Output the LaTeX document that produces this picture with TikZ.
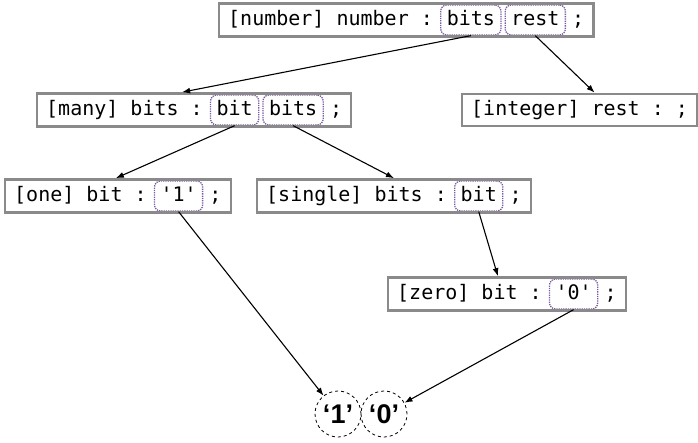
\documentclass[tikz,border=0pt]{standalone}
\usepackage{fontspec}
\setmonofont{DejaVu Sans Mono}
\setsansfont{Liberation Sans}
\usetikzlibrary{positioning,fit,arrows.meta}
\definecolor{framegray}{HTML}{8A8A8A}
\definecolor{slotpurple}{HTML}{7A5AA3}

\tikzset{
  every node/.style={font=\fontsize{20}{24}\selectfont\ttfamily},
  txt/.style={inner xsep=0pt, inner ysep=5pt, text height=15pt, text depth=5pt},
  slot/.style={txt, draw=slotpurple, densely dotted, line width=1.3pt,
    rounded corners=6pt, inner xsep=6pt},
  rule/.style={draw=framegray, line width=2.4pt, inner xsep=9pt, inner ysep=1pt},
  term/.style={circle, draw, dashed, line width=0.8pt, minimum size=46pt, inner sep=0pt,
    font=\fontsize{27}{30}\selectfont\sffamily\bfseries},
  link/.style={-{Latex[length=8pt,width=6pt]}, line width=1.1pt}
}

\begin{document}
\begin{tikzpicture}[x=1pt, y=-1pt, node distance=3pt]
  \useasboundingbox (0,0) rectangle (698,442);

  % number
  \node[txt, anchor=west] (number-head) at (228,20) {[number] number :};
  \node[slot, right=7pt of number-head] (number-bits) {bits};
  \node[slot, right=of number-bits] (number-rest) {rest};
  \node[txt, right=6pt of number-rest] (number-end) {;};
  \node[rule, fit=(number-head)(number-bits)(number-rest)(number-end)] (number) {};

  % many
  \node[txt, anchor=west] (many-head) at (46,110) {[many] bits :};
  \node[slot, right=7pt of many-head] (many-bit) {bit};
  \node[slot, right=of many-bit] (many-bits) {bits};
  \node[txt, right=6pt of many-bits] (many-end) {;};
  \node[rule, fit=(many-head)(many-bit)(many-bits)(many-end)] (many) {};

  % integer
  \node[txt, anchor=west] (integer-head) at (471,110) {[integer] rest : ;};
  \node[rule, fit=(integer-head)] (integer) {};

  % one
  \node[txt, anchor=west] (one-head) at (14,196) {[one] bit :};
  \node[slot, right=7pt of one-head] (one-1) {'1'};
  \node[txt, right=6pt of one-1] (one-end) {;};
  \node[rule, fit=(one-head)(one-1)(one-end)] (one) {};

  % single
  \node[txt, anchor=west] (single-head) at (266,196) {[single] bits :};
  \node[slot, right=7pt of single-head] (single-bit) {bit};
  \node[txt, right=6pt of single-bit] (single-end) {;};
  \node[rule, fit=(single-head)(single-bit)(single-end)] (single) {};

  % zero
  \node[txt, anchor=west] (zero-head) at (397,294) {[zero] bit :};
  \node[slot, right=7pt of zero-head] (zero-0) {'0'};
  \node[txt, right=6pt of zero-0] (zero-end) {;};
  \node[rule, fit=(zero-head)(zero-0)(zero-end)] (zero) {};

  % terminals
  \node[term] (t1) at (338,414) {‘1’};
  \node[term] (t0) at (384,414) {‘0’};

  \draw[link] (number-bits.south) -- ([xshift=-12pt]many.north);
  \draw[link] (number-rest.south) -- ([xshift=15pt]integer.north);
  \draw[link] (many-bit.south) -- ([xshift=-2pt]one.north);
  \draw[link] (many-bits.south) -- (single.north);
  \draw[link] (single-bit.south) -- ([xshift=-9pt]zero.north);
  \draw[link] (one-1.south) -- (t1);
  \draw[link] (zero-0.south) -- (t0);
\end{tikzpicture}
\end{document}
